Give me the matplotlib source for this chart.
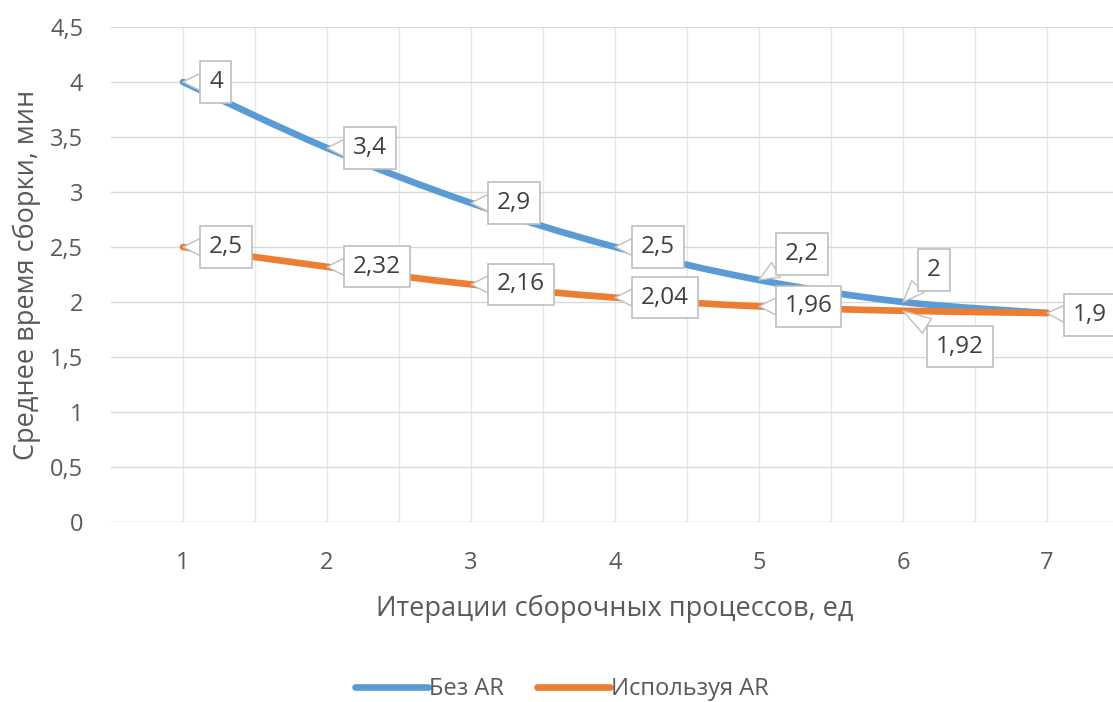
import matplotlib
matplotlib.use("Agg")
import matplotlib.pyplot as plt
from matplotlib.path import Path
from matplotlib.patches import PathPatch
from matplotlib.lines import Line2D
import numpy as np

iterations = [1, 2, 3, 4, 5, 6, 7]
without_ar = [4.0, 3.4, 2.9, 2.5, 2.2, 2.0, 1.9]
with_ar = [2.5, 2.32, 2.16, 2.04, 1.96, 1.92, 1.9]
labels_without = ["4", "3,4", "2,9", "2,5", "2,2", "2", "1,9"]
labels_with = ["2,5", "2,32", "2,16", "2,04", "1,96", "1,92", "1,9"]
y_ticks = [0, 0.5, 1, 1.5, 2, 2.5, 3, 3.5, 4, 4.5]
y_tick_labels = ["0", "0,5", "1", "1,5", "2", "2,5", "3", "3,5", "4", "4,5"]
series_names = ["Без AR", "Используя AR"]

BLUE = "#5B9BD5"
ORANGE = "#ED7D31"
TEXT = "#595959"
GRID = "#D9D9D9"

plt.rcParams['font.family'] = ['Open Sans', 'DejaVu Sans']

W, H = 1113, 702
fig = plt.figure(figsize=(W / 100, H / 100), dpi=100)
left, right, top, bottom = 111, 1119, 27, 522
ax = fig.add_axes([left / W, (H - bottom) / H, (right - left) / W, (bottom - top) / H])
ax.set_xlim(0.5, 7.5)
ax.set_ylim(0, 4.5)


def smooth_path(xs, ys):
    pts = np.column_stack([xs, ys]).astype(float)
    n = len(pts)
    verts = [pts[0]]
    codes = [Path.MOVETO]
    for i in range(n - 1):
        p0 = pts[i - 1] if i > 0 else pts[i]
        p1 = pts[i]
        p2 = pts[i + 1]
        p3 = pts[i + 2] if i + 2 < n else pts[i + 1]
        c1 = p1 + (p2 - p0) / 6.0
        c2 = p2 - (p3 - p1) / 6.0
        verts += [c1, c2, p2]
        codes += [Path.CURVE4] * 3
    return Path(verts, codes)


for ys, col in [(without_ar, BLUE), (with_ar, ORANGE)]:
    patch = PathPatch(smooth_path(iterations, ys), fill=False, edgecolor=col,
                      lw=4.8, capstyle='round', joinstyle='round', zorder=3)
    ax.add_patch(patch)

# gridlines
for y in y_ticks:
    ax.axhline(y, color=GRID if y > 0 else "#D0D0D0", lw=1.0, zorder=1)
for xv in np.arange(1.0, 7.51, 0.5):
    ax.axvline(xv, color="#E6E6E6", lw=0.9, zorder=0.5)

for s in ax.spines.values():
    s.set_visible(False)
ax.set_yticks(y_ticks)
ax.set_yticklabels(y_tick_labels, fontsize=17)
ax.set_xticks(iterations)
ax.set_xticklabels([str(i) for i in iterations], fontsize=17)
ax.tick_params(axis='both', length=0, colors=TEXT)
ax.tick_params(axis='y', pad=20)
ax.tick_params(axis='x', pad=21)

ax.set_ylabel("Среднее время сборки, мин", fontsize=19.5, color=TEXT)
ax.set_xlabel("Итерации сборочных процессов, ед", fontsize=19.5, color=TEXT)
ax.yaxis.set_label_coords((41 - left) / (right - left), 0.5)
ax.xaxis.set_label_coords(0.5, -(595 - bottom) / (bottom - top))

# data callouts
offsets_without = [(26, 0), (26, 0), (26, 0), (26, 0), (26, 26), (24, 32), (26, -2)]
offsets_with = [(26, 0), (26, 0), (26, 0), (26, 0), (26, 0), (33, -36), (26, -2)]

bbox = dict(boxstyle="square,pad=0.35", fc="white", ec="#BFBFBF", lw=1.2)


def callout(x, y, text, off):
    ax.annotate(text, xy=(x, y), xytext=off, textcoords='offset pixels',
                ha='left', va='center', fontsize=17.5, color="#404040",
                bbox=bbox, zorder=5, annotation_clip=False,
                arrowprops=dict(arrowstyle="wedge,tail_width=0.7,shrink_factor=0.5",
                                fc="white", ec="#BFBFBF", lw=1.0,
                                shrinkA=0, shrinkB=0))


for i, x in enumerate(iterations[:-1]):
    callout(x, without_ar[i], labels_without[i], offsets_without[i])
for i, x in enumerate(iterations):
    callout(x, with_ar[i], labels_with[i], offsets_with[i])

handles = [Line2D([0], [0], color=BLUE, lw=4.8, solid_capstyle='round'),
           Line2D([0], [0], color=ORANGE, lw=4.8, solid_capstyle='round')]
fig.legend(handles, series_names, loc='center', bbox_to_anchor=(562 / W, 1 - 689 / H),
           ncol=2, frameon=False, fontsize=17, labelcolor=TEXT, handlelength=3.1,
           handletextpad=0.05, columnspacing=1.4)

fig.savefig("out.png", dpi=100, facecolor="white")
